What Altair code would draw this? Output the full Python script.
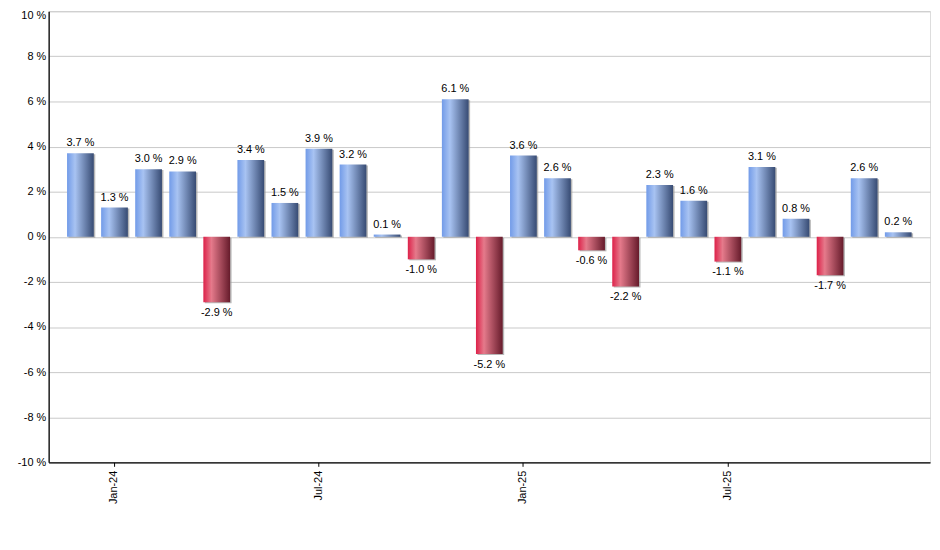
import altair as alt
import pandas as pd

months = ["Dec-23", "Jan-24", "Feb-24", "Mar-24", "Apr-24", "May-24", "Jun-24",
          "Jul-24", "Aug-24", "Sep-24", "Oct-24", "Nov-24", "Dec-24", "Jan-25",
          "Feb-25", "Mar-25", "Apr-25", "May-25", "Jun-25", "Jul-25", "Aug-25",
          "Sep-25", "Oct-25", "Nov-25", "Dec-25"]
values = [3.7, 1.3, 3.0, 2.9, -2.9, 3.4, 1.5, 3.9, 3.2, 0.1, -1.0, 6.1, -5.2,
          3.6, 2.6, -0.6, -2.2, 2.3, 1.6, -1.1, 3.1, 0.8, -1.7, 2.6, 0.2]
tick_labels = ["Jan-24", "Jul-24", "Jan-25", "Jul-25"]
y_ticks = [-10, -8, -6, -4, -2, 0, 2, 4, 6, 8, 10]

df = pd.DataFrame({"month": months, "value": values})
df["label"] = [f"{v:.1f} %" for v in values]

FONT = "Liberation Sans"
FS = 11

blue_grad = {
    "gradient": "linear", "x1": 0, "x2": 1, "y1": 0, "y2": 0,
    "stops": [
        {"offset": 0, "color": "#729be8"},
        {"offset": 0.3, "color": "#a8c3f2"},
        {"offset": 1, "color": "#374b73"},
    ],
}
red_grad = {
    "gradient": "linear", "x1": 0, "x2": 1, "y1": 0, "y2": 0,
    "stops": [
        {"offset": 0, "color": "#dd2149"},
        {"offset": 0.3, "color": "#e57a8b"},
        {"offset": 1, "color": "#661b2b"},
    ],
}

x = alt.X(
    "month:O",
    sort=months,
    scale=alt.Scale(paddingInner=0.215, paddingOuter=0.54),
    axis=alt.Axis(
        values=tick_labels, title=None, labelAngle=-90, labelFont=FONT,
        labelFontSize=FS, labelColor="black", tickColor="black", tickSize=4,
        domainColor="black", domainWidth=1.3, grid=False, labelPadding=4,
    ),
)
y = alt.Y(
    "value:Q",
    scale=alt.Scale(domain=[-10, 10], nice=False),
    axis=alt.Axis(
        values=y_ticks, labelExpr="datum.value + ' %'", title=None, tickSize=0,
        labelFont=FONT, labelFontSize=FS, labelColor="black", labelPadding=3,
        labelOffset={"condition": {"test": "datum.value == 10", "value": 4}, "value": 0},
        domainColor="black", domainWidth=1.3, gridColor="#c8c8c8", gridWidth=1,
    ),
)

base = alt.Chart(df)

shadow = base.mark_bar(color="#9a9a9a", opacity=0.7, xOffset=1.5, yOffset=1).encode(x=x, y=y)
pos = base.transform_filter("datum.value >= 0").mark_bar(color=blue_grad).encode(x=x, y=y)
neg = base.transform_filter("datum.value < 0").mark_bar(color=red_grad).encode(x=x, y=y)
tpos = base.transform_filter("datum.value >= 0").mark_text(
    baseline="bottom", dy=-5, font=FONT, fontSize=FS, color="black"
).encode(x=x, y=y, text="label:N")
tneg = base.transform_filter("datum.value < 0").mark_text(
    baseline="top", dy=5, font=FONT, fontSize=FS, color="black"
).encode(x=x, y=y, text="label:N")

chart = alt.layer(shadow, pos, neg, tpos, tneg).properties(
    width=889, height=455, autosize="none",
    padding={"left": 41, "top": 1, "right": 2, "bottom": 70},
).configure_view(stroke=None).configure(background="white")

chart.save("out.html", embed_options={"renderer": "svg", "actions": False})
